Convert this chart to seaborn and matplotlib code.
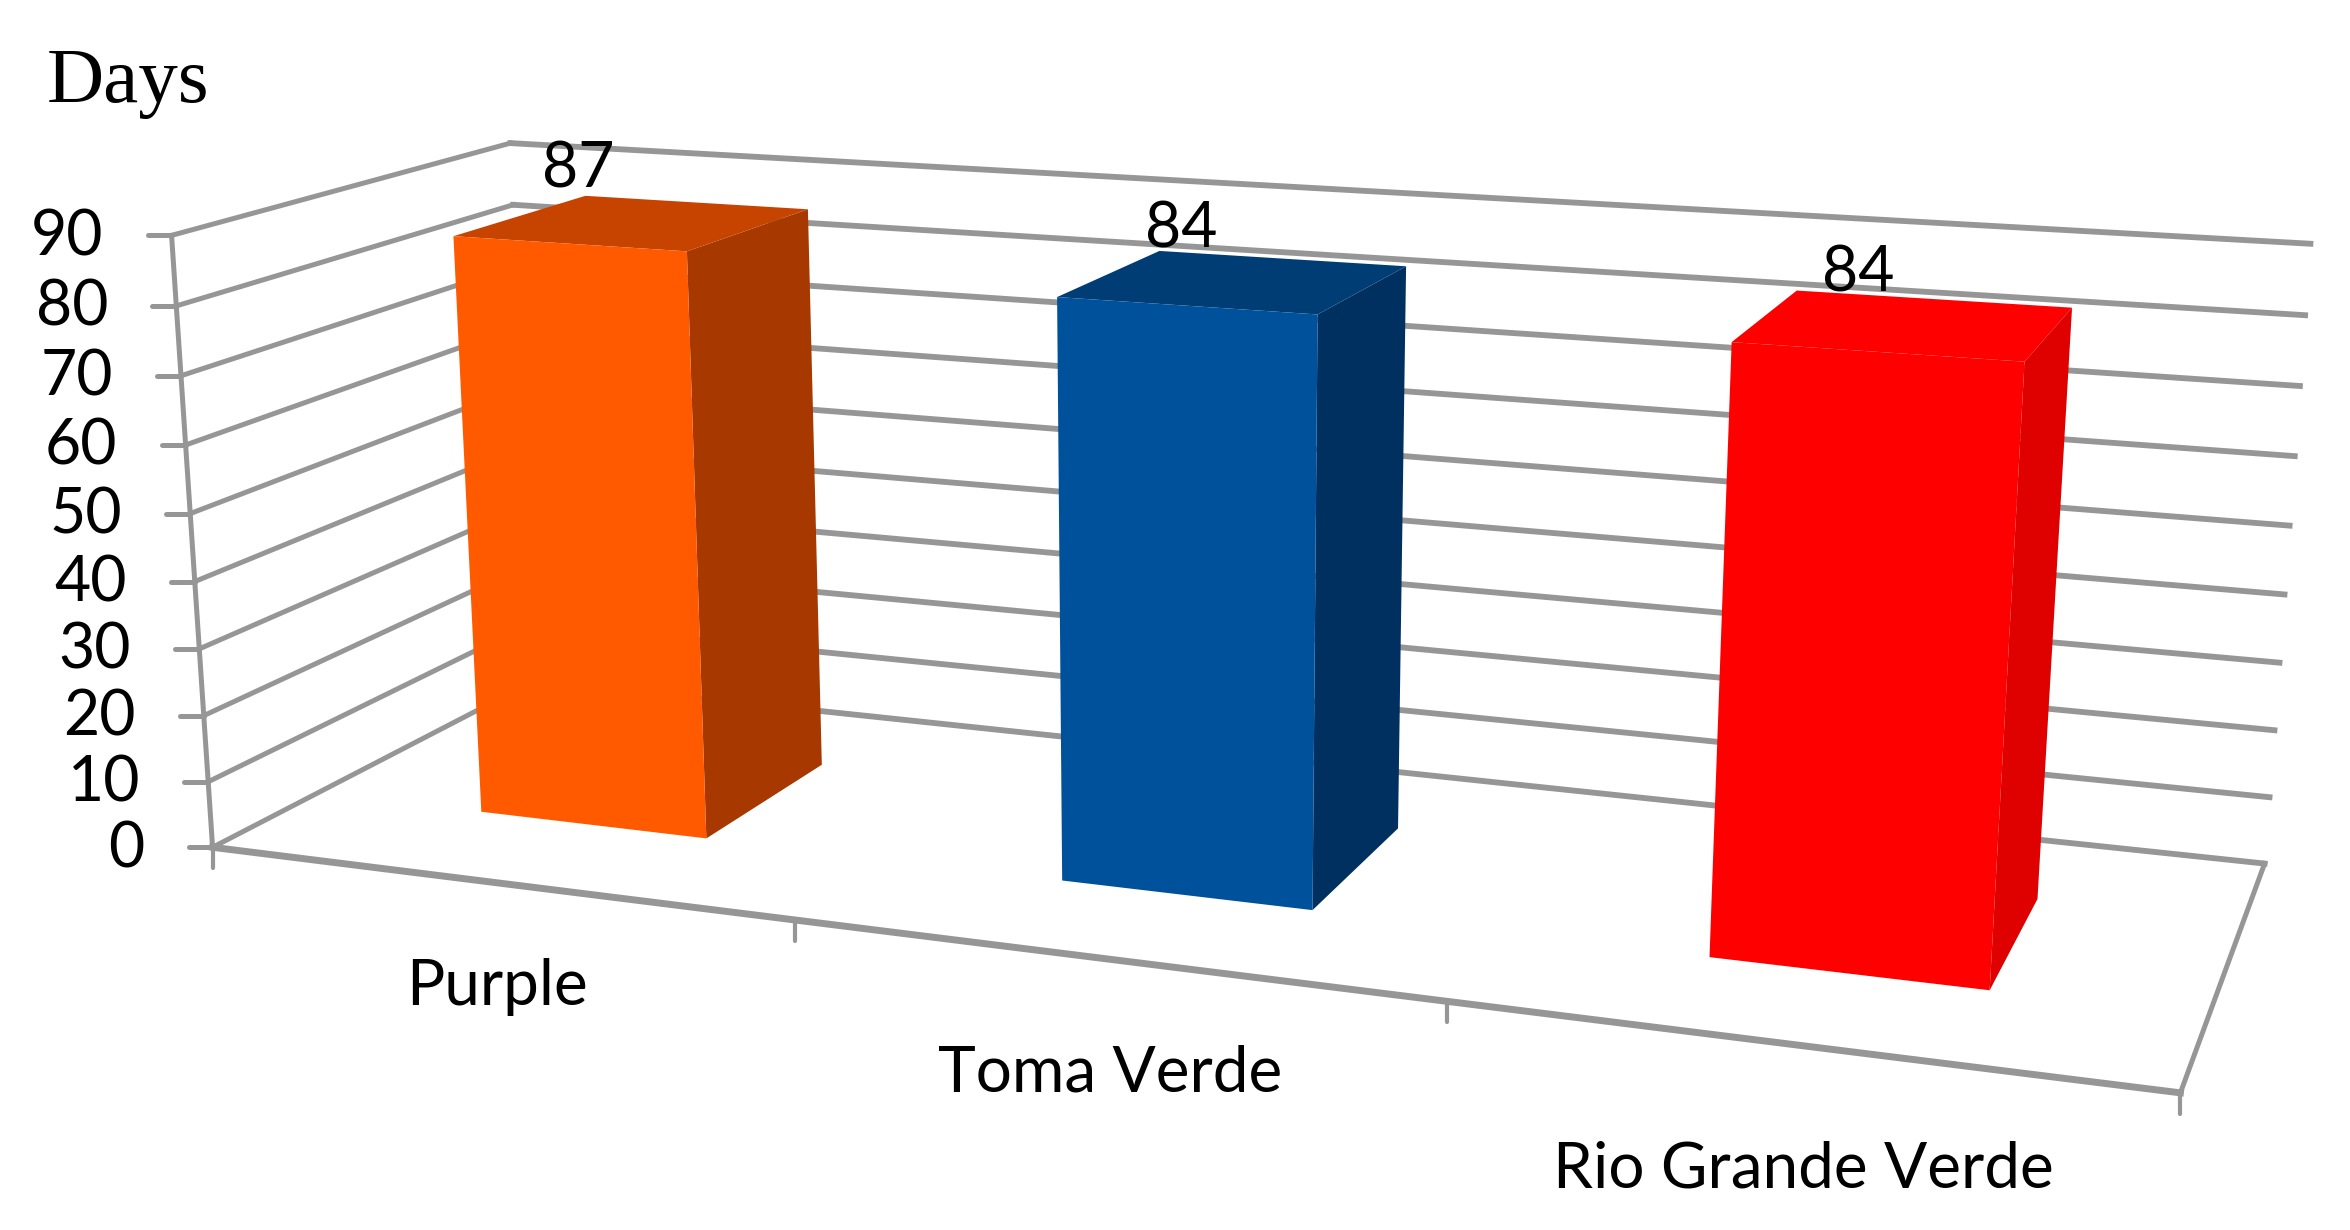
import numpy as np
import pandas as pd
import matplotlib
matplotlib.use("Agg")
import matplotlib.pyplot as plt
from matplotlib.transforms import Transform, IdentityTransform
import seaborn as sns

# ---- data ----
categories = ["Purple", "Toma Verde", "Rio Grande Verde"]
days = [87, 84, 84]
value_ticks = [0, 10, 20, 30, 40, 50, 60, 70, 80, 90]
front_colors = ["#FF5A00", "#00519B", "#FF0000"]
side_colors = ["#A63800", "#003060", "#DF0000"]
top_colors = ["#C64400", "#003D74", "#FF0000"]
grid_color = "#969696"

W, H = 2350, 1230
BAR_WIDTH = 0.40
D_FRONT, D_BACK = 0.30, 0.715
X_MIN, X_MAX = -0.5, 2.5
Z_MAX = 90

# camera calibration: axis-box corners (X, depth, value) -> reference pixel
calib_world = np.array([(-0.5,0,0),(2.5,0,0),(2.5,1,0),(-0.5,0,90),(-0.5,1,90),
                        (2.5,1,90),(0.5,0,0),(1.5,0,0),(2.5,1,30)], float)
calib_px = np.array([(213,846),(2180,1090),(2264,862),(172,234),(510,144),
                     (2310,244),(795,920),(1447,1007),(2281,663)], float)

def fit_camera(world, px):
    rows, rhs = [], []
    for (x, d, z), (u, v) in zip(world, px):
        rows.append([x, d, z, 1, 0, 0, 0, 0, -u*x, -u*d, -u*z]); rhs.append(u)
        rows.append([0, 0, 0, 0, x, d, z, 1, -v*x, -v*d, -v*z]); rhs.append(v)
    sol = np.linalg.lstsq(np.array(rows), np.array(rhs), rcond=None)[0]
    return np.append(sol, 1.0).reshape(3, 4)

CAM = fit_camera(calib_world, calib_px)

class Plane(Transform):
    """Project a plane of the 3D chart box (one coordinate held fixed) to the canvas."""
    input_dims = output_dims = 2
    def __init__(self, fixed, value):
        super().__init__()
        self.fixed, self.value = fixed, value
    def transform_non_affine(self, values):
        a = np.asarray(values, float)
        c = np.full(len(a), float(self.value))
        if self.fixed == "d":
            w = np.c_[a[:, 0], c, a[:, 1], np.ones(len(a))]
        elif self.fixed == "x":
            w = np.c_[c, a[:, 0], a[:, 1], np.ones(len(a))]
        else:
            w = np.c_[a[:, 0], a[:, 1], c, np.ones(len(a))]
        p = w @ CAM.T
        return np.c_[p[:, 0] / p[:, 2], H - p[:, 1] / p[:, 2]]

sns.set_theme(style="white")
SANS = "Lato"
fig = plt.figure(figsize=(W/100, H/100), dpi=100, facecolor="white")
ax = fig.add_axes([0, 0, 1, 1])

df = pd.DataFrame({"variety": categories, "days": days})
sns.barplot(data=df, x="variety", y="days", hue="variety", palette=front_colors,
            width=BAR_WIDTH, legend=False, saturation=1, ax=ax, zorder=5, linewidth=0)
ax.set_xlim(X_MIN, X_MAX); ax.set_ylim(0, Z_MAX)
ax.axis("off")

def line(xs, ys, plane, lw):
    ax.plot(xs, ys, color=grid_color, lw=lw, transform=plane, clip_on=False,
            zorder=1, solid_capstyle="projecting")

# walls: gridlines along the left wall and the back wall
left, back = Plane("x", X_MIN), Plane("d", 1)
for z in value_ticks:
    line([0, 1], [z, z], left, 3.6)
    line([X_MIN, X_MAX], [z, z], back, 4.2)
# axis box
front_plane = Plane("d", 0)
line([X_MIN, X_MIN], [0, Z_MAX], front_plane, 3.6)
line([X_MIN, X_MAX], [0, 0], front_plane, 5.0)
line([0, 1], [0, 0], Plane("x", X_MAX), 3.6)

# ticks: fixed pixel length outside the box
def project(x, d, z):
    p = CAM @ np.array([x, d, z, 1.0])
    return p[0]/p[2], p[1]/p[2]

for z in value_ticks:
    u, v = project(X_MIN, 0, z)
    ax.plot([u-24, u], [H-v, H-v], color=grid_color, lw=3.6, clip_on=False, zorder=1,
            transform=IdentityTransform())
    fig.text((u-68)/W, 1-(v+2)/H, str(z), ha="right", va="center", fontsize=45,
             family=SANS, color="black")
for x in [X_MIN, 0.5, 1.5, X_MAX]:
    u, v = project(x, 0, 0)
    ax.plot([u, u], [H-v, H-v-21], color=grid_color, lw=3.0, clip_on=False, zorder=1,
            transform=IdentityTransform())

# bars: seaborn's front faces pushed onto the front plane, plus side and top faces
for patch, side, top in zip(ax.patches, side_colors, top_colors):
    x0, w, h = patch.get_x(), patch.get_width(), patch.get_height()
    patch.set_transform(Plane("d", D_FRONT))
    patch.set_clip_on(False)
    patch.set_edgecolor("none")
    ax.fill([D_FRONT, D_BACK, D_BACK, D_FRONT], [0, 0, h, h], color=side, lw=0,
            transform=Plane("x", x0 + w), clip_on=False, zorder=3)
    ax.fill([x0, x0 + w, x0 + w, x0], [D_FRONT, D_FRONT, D_BACK, D_BACK], color=top, lw=0,
            transform=Plane("z", h), clip_on=False, zorder=3)

# text
label_px = [(578, 187), (1181, 247), (1858, 292)]
for (u, v), val in zip(label_px, days):
    fig.text(u/W, 1-v/H, str(val), ha="center", va="baseline", fontsize=45, family=SANS, color="black")
cat_px = [(497, 1005), (1110, 1091), (1803, 1187)]
for (u, v), name in zip(cat_px, categories):
    fig.text(u/W, 1-v/H, name, ha="center", va="baseline", fontsize=46, family=SANS, color="black")
fig.text(47/W, 1-102/H, "Days", ha="left", va="baseline", fontsize=57,
         family="Liberation Serif", color="black")

fig.savefig("out.png", dpi=100, facecolor="white")
